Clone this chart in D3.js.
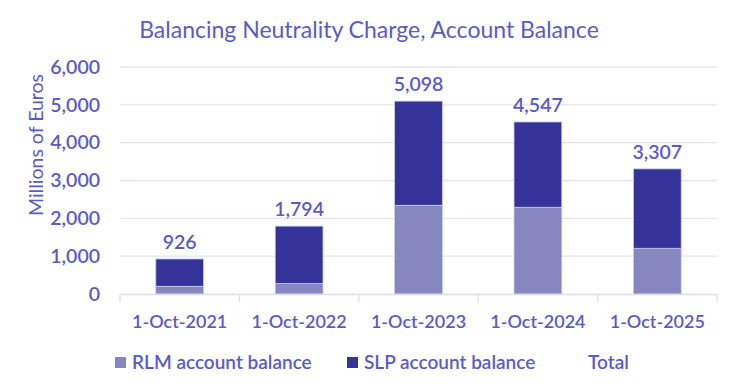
<!DOCTYPE html>
<html><head><meta charset="utf-8">
<script src="https://cdn.jsdelivr.net/npm/d3@7/dist/d3.min.js"></script>
<style>body{margin:0;background:#fff;}svg{display:block;font-family:Lato, "Open Sans", sans-serif;}</style>
</head><body>
<svg id="c" width="737" height="392"></svg>
<script>
const categories = ["1-Oct-2021","1-Oct-2022","1-Oct-2023","1-Oct-2024","1-Oct-2025"];
const rlm = [205, 275, 2345, 2292, 1208];
const totals = [926, 1794, 5098, 4547, 3307];
const slp = [721, 1519, 2753, 2255, 2099];
const yTicks = [0,1000,2000,3000,4000,5000,6000];
const seriesNames = ["RLM account balance","SLP account balance","Total"];

const textColor = "#5b5bc8";
const cRLM = "#8686c1", cSLP = "#333399";
const svg = d3.select("#c");
const m = {l:120, r:717, t:67, b:294};
const x = d3.scaleBand().domain(categories).range([m.l, m.r]).paddingInner(0.6).paddingOuter(0.3);
const xb = d3.scaleBand().domain(categories).range([m.l, m.r]);
const y = d3.scaleLinear().domain([0,6000]).range([m.b, m.t]);

svg.append("text").attr("x",369).attr("y",38).attr("text-anchor","middle")
  .attr("fill",textColor).attr("font-size",23).text("Balancing Neutrality Charge, Account Balance");

// gridlines
svg.append("g").selectAll("line").data(yTicks.slice(1)).join("line")
  .attr("x1",m.l).attr("x2",m.r).attr("y1",d=>y(d)).attr("y2",d=>y(d))
  .attr("stroke","#e4e4f4").attr("stroke-width",1.3);

// y axis labels
const ya = svg.append("g").attr("transform",`translate(${m.l},0)`)
  .call(d3.axisLeft(y).tickValues(yTicks).tickFormat(d3.format(",")).tickSize(0).tickPadding(20));
ya.select(".domain").remove();
ya.selectAll("text").attr("fill",textColor).attr("font-size",19.5).attr("font-family","Lato, sans-serif").attr("font-weight",600);

svg.append("text").attr("transform","translate(43,145) rotate(-90)").attr("text-anchor","middle")
  .attr("fill",textColor).attr("font-size",19.5).text("Millions of Euros");

// stacked data
const rows = categories.map((c,i)=>({cat:c, rlm:rlm[i], slp:slp[i]}));
const stack = d3.stack().keys(["rlm","slp"])(rows);
const colors = {rlm:cRLM, slp:cSLP};
svg.append("g").selectAll("g").data(stack).join("g")
  .attr("fill",d=>colors[d.key])
  .selectAll("rect").data(d=>d).join("rect")
  .attr("x",d=>x(d.data.cat)).attr("width",x.bandwidth())
  .attr("y",d=>y(d[1])).attr("height",d=>y(d[0])-y(d[1]))
  .attr("stroke","#c9c9e6").attr("stroke-width",0.8);

// x axis
const xa = svg.append("g").attr("transform",`translate(0,${m.b})`)
  .call(d3.axisBottom(xb).tickSize(0).tickPadding(21));
xa.select(".domain").attr("stroke","#dcdcf0").attr("stroke-width",1.3);
xa.selectAll("text").attr("fill",textColor).attr("font-size",18).attr("font-family","Lato, sans-serif").attr("font-weight",600);
svg.append("g").selectAll("line").data(categories.concat([null])).join("line")
  .attr("x1",(d,i)=>m.l + i*xb.step()).attr("x2",(d,i)=>m.l + i*xb.step())
  .attr("y1",m.b).attr("y2",m.b+8).attr("stroke","#dcdcf0").attr("stroke-width",1.3);

// totals
svg.append("g").selectAll("text").data(categories).join("text")
  .attr("x",c=>x(c)+x.bandwidth()/2).attr("y",(c,i)=>y(totals[i])-10)
  .attr("text-anchor","middle").attr("fill",textColor).attr("font-size",19.5).attr("font-weight",600)
  .text((c,i)=>d3.format(",")(totals[i]));

// legend
const lg = svg.append("g");
const lx = [115, 347, 588];
seriesNames.forEach((n,i)=>{
  if(i<2) lg.append("rect").attr("x",lx[i]).attr("y",357).attr("width",11).attr("height",11).attr("fill",i===0?cRLM:cSLP);
  lg.append("text").attr("x",i<2?lx[i]+17:lx[i]).attr("y",369).attr("fill",textColor)
    .attr("font-size",19).attr("font-weight",600).text(n);
});
</script>
</body></html>
